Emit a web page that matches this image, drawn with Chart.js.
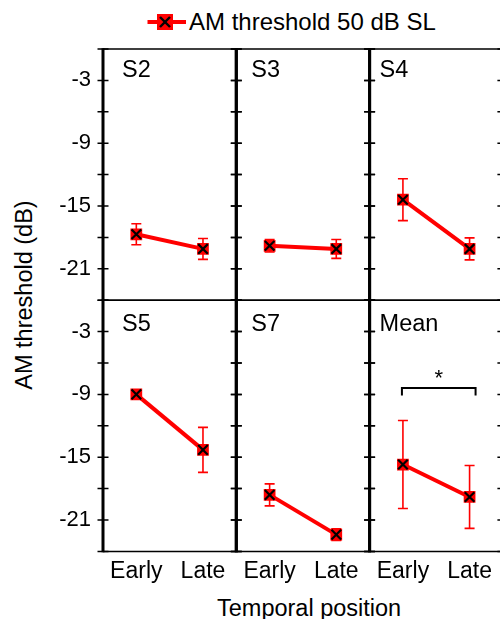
<!DOCTYPE html>
<html>
<head>
<meta charset="utf-8">
<script src="https://cdn.jsdelivr.net/npm/chart.js@4.4.1/dist/chart.umd.min.js"></script>
<style>
  html, body { margin: 0; padding: 0; background: #fff; }
  body { width: 500px; height: 619px; position: relative; overflow: hidden;
         font-family: "Liberation Sans", Arial, Helvetica, sans-serif; color: #000; }
  canvas.panel { position: absolute; left: 0; top: 0; }
  .txt { position: absolute; white-space: nowrap; line-height: 1; }
  #legend { left: 147px; top: 9px; height: 26px; display: flex; align-items: center; }
  #legend svg { display: block; margin-right: 2px; }
  #legendText { font-size: 24px; }
  #xTitle { left: 217px; top: 597px; font-size: 23.5px; }
  #yTitle { left: 25px; top: 295px; font-size: 23.5px; transform: translate(-50%, -50%) rotate(-90deg); }
</style>
</head>
<body>
<div id="legend" class="txt">
  <svg width="40" height="20" viewBox="0 0 40 20">
    <line x1="0.5" y1="10" x2="39" y2="10" stroke="#ff0000" stroke-width="4"/>
    <rect x="10" y="2" width="16" height="16" fill="#ff0000"/>
    <line x1="13" y1="5" x2="23" y2="15" stroke="#000" stroke-width="2.4"/>
    <line x1="23" y1="5" x2="13" y2="15" stroke="#000" stroke-width="2.4"/>
  </svg>
  <span id="legendText">AM threshold 50 dB SL</span>
</div>
<div id="xTitle" class="txt">Temporal position</div>
<div id="yTitle" class="txt">AM threshold (dB)</div>

<script>
// ---------------- data ----------------
const categories   = ['Early', 'Late'];
const panelNames   = ['S2', 'S3', 'S4', 'S5', 'S7', 'Mean'];
const earlyValues  = [-17.7, -18.8, -14.4,  -9.0, -18.6, -15.7];
const lateValues   = [-19.1, -19.1, -19.1, -14.3, -22.4, -18.8];
const earlyErrors  = [ 1.0,   0.6,   2.0,   0.3,   1.05,  4.2];
const lateErrors   = [ 1.0,   0.9,   1.05,  2.15,  0.55,  3.0];
const yTickLabels  = ['-3', '-9', '-15', '-21'];
const yMin = -24, yMax = 0, yStep = 3;
const significance = { panel: 'Mean', at: -8.4, depth: 0.7, text: '*' };

// ---------------- layout ----------------
const FONT = '"Liberation Sans", Arial, Helvetica, sans-serif';
const CANVAS_W = 520, CANVAS_H = 619;
const GRID = { left: 103, top: 49, panelW: 133.3, panelH: 251.2, cols: 3 };
const labelDx = [19, 15, 10];
const labelDy = [28, 31];

Chart.defaults.font.family = FONT;
Chart.defaults.color = '#000';

const framePlugin = {
  id: 'frame',
  beforeDatasetsDraw(chart, args, opts) {
    const { ctx, chartArea: a, scales: { y } } = chart;
    ctx.save();
    ctx.strokeStyle = '#000';
    ctx.lineCap = 'butt';
    ctx.lineWidth = 1.5;
    ctx.beginPath();
    ctx.moveTo(a.left, a.top); ctx.lineTo(a.right, a.top);
    ctx.moveTo(a.left, a.bottom); ctx.lineTo(a.right, a.bottom);
    ctx.stroke();
    ctx.lineWidth = 3;
    ctx.beginPath();
    ctx.moveTo(a.left, a.top - 0.75); ctx.lineTo(a.left, a.bottom + 0.75);
    ctx.moveTo(a.right, a.top - 0.75); ctx.lineTo(a.right, a.bottom + 0.75);
    ctx.stroke();
    ctx.lineWidth = 1.5;
    ctx.beginPath();
    y.ticks.forEach(t => {
      const py = y.getPixelForValue(t.value);
      ctx.moveTo(a.left - 5.5, py); ctx.lineTo(a.left + 5.5, py);
      ctx.moveTo(a.right - 5.5, py); ctx.lineTo(a.right + 5.5, py);
    });
    ctx.stroke();
    // panel label
    ctx.fillStyle = '#000';
    ctx.font = '23.5px ' + FONT;
    ctx.textBaseline = 'alphabetic';
    ctx.textAlign = 'left';
    ctx.fillText(opts.label, a.left + opts.dx, a.top + opts.dy);
    ctx.restore();
  }
};

const errorBarPlugin = {
  id: 'errorBars',
  beforeDatasetsDraw(chart) {
    const { ctx, scales: { y } } = chart;
    const ds = chart.data.datasets[0];
    const meta = chart.getDatasetMeta(0);
    ctx.save();
    ctx.strokeStyle = '#ff0000';
    ctx.lineWidth = 1.6;
    meta.data.forEach((pt, k) => {
      const v = ds.data[k], e = ds.errors[k];
      const y1 = y.getPixelForValue(v + e), y2 = y.getPixelForValue(v - e);
      ctx.beginPath();
      ctx.moveTo(pt.x, y1); ctx.lineTo(pt.x, y2);
      ctx.moveTo(pt.x - 5, y1); ctx.lineTo(pt.x + 5, y1);
      ctx.moveTo(pt.x - 5, y2); ctx.lineTo(pt.x + 5, y2);
      ctx.stroke();
    });
    ctx.restore();
  }
};

const sigPlugin = {
  id: 'sig',
  afterDatasetsDraw(chart, args, opts) {
    if (!opts || !opts.show) return;
    const { ctx, scales: { x, y } } = chart;
    const x0 = x.getPixelForValue(0) - 1, x1 = x.getPixelForValue(1) + 6;
    const yTop = y.getPixelForValue(significance.at);
    const yDrop = y.getPixelForValue(significance.at - significance.depth);
    ctx.save();
    ctx.strokeStyle = '#000';
    ctx.lineWidth = 2;
    ctx.beginPath();
    ctx.moveTo(x0, yDrop); ctx.lineTo(x0, yTop); ctx.lineTo(x1, yTop); ctx.lineTo(x1, yDrop);
    ctx.stroke();
    ctx.fillStyle = '#000';
    ctx.font = '22px ' + FONT;
    ctx.textAlign = 'center';
    ctx.textBaseline = 'alphabetic';
    ctx.fillText(significance.text, (x0 + x1) / 2, yTop - 3);
    ctx.restore();
  }
};

panelNames.forEach((name, i) => {
  const col = i % GRID.cols, row = Math.floor(i / GRID.cols);
  const L = GRID.left + col * GRID.panelW, T = GRID.top + row * GRID.panelH;
  const R = L + GRID.panelW, B = T + GRID.panelH;
  const showY = col === 0, showX = row === 1;
  const yW = showY ? 60 : 0, xH = showX ? 40 : 0;

  const cv = document.createElement('canvas');
  cv.className = 'panel';
  cv.width = CANVAS_W; cv.height = CANVAS_H;
  cv.style.width = CANVAS_W + 'px'; cv.style.height = CANVAS_H + 'px';
  document.body.appendChild(cv);

  const values = [earlyValues[i], lateValues[i]];
  new Chart(cv, {
    type: 'line',
    data: {
      labels: categories,
      datasets: [
        { data: values, errors: [earlyErrors[i], lateErrors[i]], order: 2,
          borderColor: '#ff0000', borderWidth: 4, tension: 0,
          pointStyle: 'rect', pointRadius: 8.3, pointBackgroundColor: '#ff0000',
          pointBorderColor: '#ff0000', pointBorderWidth: 0 },
        { data: values, showLine: false, order: 1,
          borderColor: '#000', backgroundColor: '#000',
          pointStyle: 'crossRot', pointRadius: 6.8, pointBorderColor: '#000',
          pointBackgroundColor: '#000', pointBorderWidth: 2.2 }
      ]
    },
    options: {
      responsive: false, animation: false, events: [],
      devicePixelRatio: 1,
      layout: { padding: { left: L - yW, top: T, right: CANVAS_W - R, bottom: CANVAS_H - B - xH } },
      plugins: {
        legend: { display: false }, tooltip: { enabled: false },
        frame: { label: name, dx: labelDx[col], dy: labelDy[row] },
        sig: { show: name === significance.panel }
      },
      scales: {
        x: { type: 'category', offset: true,
             grid: { display: false, drawTicks: false }, border: { display: false },
             ticks: { display: showX, autoSkip: false, maxRotation: 0, padding: 6,
                      color: '#000', font: { size: 23 } },
             afterFit: s => { s.height = xH; } },
        y: { type: 'linear', min: yMin, max: yMax,
             grid: { display: false, drawTicks: false }, border: { display: false },
             ticks: { display: showY, stepSize: yStep, autoSkip: false, padding: 12,
                      color: '#000', font: { size: 22 },
                      callback: v => yTickLabels.includes(String(v)) ? String(v) : '' },
             afterFit: s => { s.width = yW; } }
      }
    },
    plugins: [framePlugin, errorBarPlugin, sigPlugin]
  });
});
</script>
</body>
</html>
